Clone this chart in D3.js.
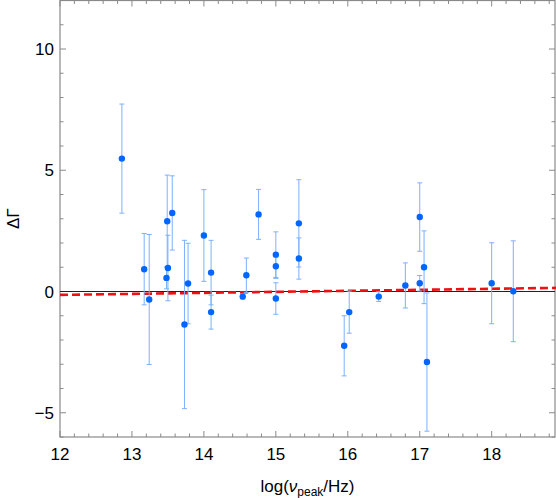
<!DOCTYPE html>
<meta charset="utf-8">
<script src="https://d3js.org/d3.v7.min.js"></script>
<style>
  body { margin: 0; background: white; }
  text { font-family: "Liberation Sans", Arial, sans-serif; }
</style>
<body>
<div id="chart"></div>
<script>
  // data: log peak frequency, delta Gamma, error
  const logNu = [12.86, 13.17, 13.24, 13.49, 13.50, 13.48, 13.56, 13.73, 13.78, 14.00,
                 14.10, 14.10, 14.54, 14.59, 14.76, 15.00, 15.00, 15.00, 15.32, 15.32,
                 15.95, 16.02, 16.43, 16.80, 17.00, 17.00, 17.06, 17.10, 18.00, 18.30];
  const dGamma = [5.48, 0.92, -0.33, 2.90, 0.97, 0.56, 3.24, -1.36, 0.33, 2.31,
                  0.78, -0.85, -0.21, 0.67, 3.18, 1.52, 1.04, -0.29, 2.81, 1.36,
                  -2.24, -0.85, -0.21, 0.25, 3.07, 0.34, 1.00, -2.91, 0.34, 0.01];
  const dErr = [2.25, 1.47, 2.68, 1.90, 1.35, 0.45, 1.53, 3.47, 1.66, 1.89,
                1.33, 0.70, 0.10, 0.71, 1.03, 0.94, 0.50, 0.65, 1.80, 0.85,
                1.24, 0.87, 0.20, 0.93, 1.41, 0.32, 1.50, 2.85, 1.67, 2.08];
  // fitted line endpoints
  const fitX = [12, 18.9];
  const fitY = [-0.14, 0.15];

  const xTicks = [12, 13, 14, 15, 16, 17, 18];
  const yTicks = [-5, 0, 5, 10];

  const W = 556, H = 498;
  const margin = {top: 0.5, right: 1, bottom: 61, left: 60};

  const svg = d3.select("#chart").append("svg")
    .attr("width", W).attr("height", H);

  const x = d3.scaleLinear().domain([12, 18.88]).range([margin.left, W - margin.right]);
  const y = d3.scaleLinear().domain([-6, 12]).range([H - margin.bottom, margin.top]);

  const frameColor = "#8a8a8a";
  const x0 = x.range()[0], x1 = x.range()[1], y0 = y.range()[0], y1 = y.range()[1];

  // minor + major ticks on all four sides (pointing inward)
  const xMinor = d3.range(12, 18.9, 0.2).filter(v => Math.abs(v - Math.round(v)) > 0.01);
  const yMinor = d3.range(-6, 12.01, 1).filter(v => v % 5 !== 0);
  const tk = svg.append("g").attr("stroke", frameColor).attr("stroke-width", 1);
  xTicks.forEach(v => {
    tk.append("line").attr("x1", x(v)).attr("x2", x(v)).attr("y1", y0).attr("y2", y0 - 6);
    tk.append("line").attr("x1", x(v)).attr("x2", x(v)).attr("y1", y1).attr("y2", y1 + 6);
  });
  xMinor.forEach(v => {
    tk.append("line").attr("x1", x(v)).attr("x2", x(v)).attr("y1", y0).attr("y2", y0 - 3.5);
    tk.append("line").attr("x1", x(v)).attr("x2", x(v)).attr("y1", y1).attr("y2", y1 + 3.5);
  });
  yTicks.forEach(v => {
    tk.append("line").attr("x1", x0).attr("x2", x0 + 6).attr("y1", y(v)).attr("y2", y(v));
    tk.append("line").attr("x1", x1).attr("x2", x1 - 6).attr("y1", y(v)).attr("y2", y(v));
  });
  yMinor.forEach(v => {
    tk.append("line").attr("x1", x0).attr("x2", x0 + 3.5).attr("y1", y(v)).attr("y2", y(v));
    tk.append("line").attr("x1", x1).attr("x2", x1 - 3.5).attr("y1", y(v)).attr("y2", y(v));
  });

  // frame
  svg.append("rect")
    .attr("x", x0).attr("y", y1)
    .attr("width", x1 - x0).attr("height", y0 - y1)
    .attr("fill", "none").attr("stroke", frameColor).attr("stroke-width", 1.2);

  // tick labels
  svg.append("g").selectAll("text").data(xTicks).join("text")
    .attr("x", d => x(d)).attr("y", y0 + 23)
    .attr("text-anchor", "middle").style("font-size", "17px")
    .text(d => d);
  svg.append("g").selectAll("text").data(yTicks).join("text")
    .attr("x", x0 - 6).attr("y", d => y(d)).attr("dy", "0.36em")
    .attr("text-anchor", "end").style("font-size", "17px")
    .text(d => d < 0 ? "\u2212" + Math.abs(d) : d);

  // zero line
  svg.append("line")
    .attr("x1", x0).attr("x2", x1).attr("y1", y(0)).attr("y2", y(0))
    .attr("stroke", "#222").attr("stroke-width", 1);

  // fit line
  svg.append("line")
    .attr("x1", x(fitX[0])).attr("x2", x(fitX[1]))
    .attr("y1", y(fitY[0])).attr("y2", y(fitY[1]))
    .attr("stroke", "#ee1111").attr("stroke-width", 2.6)
    .attr("stroke-dasharray", "8,4");

  // error bars
  const pts = logNu.map((v, i) => ({x: v, y: dGamma[i], e: dErr[i]}));
  const eb = svg.append("g").attr("stroke", "#7db0ff").attr("stroke-width", 1);
  eb.selectAll("line.v").data(pts).join("line").attr("class", "v")
    .attr("x1", d => x(d.x)).attr("x2", d => x(d.x))
    .attr("y1", d => y(d.y - d.e)).attr("y2", d => y(d.y + d.e));
  eb.selectAll("line.t").data(pts).join("line").attr("class", "t")
    .attr("x1", d => x(d.x) - 2.5).attr("x2", d => x(d.x) + 2.5)
    .attr("y1", d => y(d.y + d.e)).attr("y2", d => y(d.y + d.e));
  eb.selectAll("line.b").data(pts).join("line").attr("class", "b")
    .attr("x1", d => x(d.x) - 2.5).attr("x2", d => x(d.x) + 2.5)
    .attr("y1", d => y(d.y - d.e)).attr("y2", d => y(d.y - d.e));

  // points
  svg.append("g").selectAll("circle").data(pts).join("circle")
    .attr("cx", d => x(d.x)).attr("cy", d => y(d.y)).attr("r", 3.2)
    .attr("fill", "#0066ff");

  // axis labels
  const xl = svg.append("text")
    .attr("x", (x0 + x1) / 2).attr("y", 492)
    .attr("text-anchor", "middle").style("font-size", "17px");
  xl.append("tspan").text("log(");
  xl.append("tspan").style("font-style", "italic").text("\u03bd");
  xl.append("tspan").attr("dy", 4).style("font-size", "12px").text("peak");
  xl.append("tspan").attr("dy", -4).text("/Hz)");

  svg.append("text")
    .attr("transform", `translate(19, ${(y0 + y1) / 2}) rotate(-90)`)
    .attr("text-anchor", "middle").style("font-size", "17px")
    .text("\u0394\u0393");
</script>
</body>
